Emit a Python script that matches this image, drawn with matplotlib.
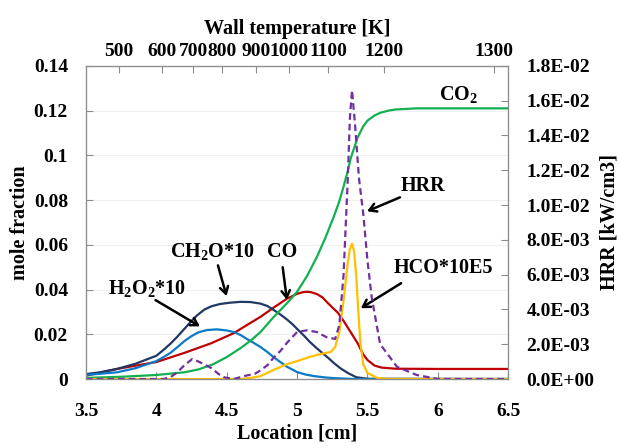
import numpy as np
import matplotlib
matplotlib.use("Agg")
import matplotlib.pyplot as plt
from matplotlib.ticker import FuncFormatter, FixedLocator

plt.rcParams['font.family'] = ['Liberation Serif', 'DejaVu Serif']
plt.rcParams['font.weight'] = 'bold'
plt.rcParams['mathtext.default'] = 'regular'

# data
# CO2 (green)
co2_x = [3.5, 3.75, 4.0, 4.2, 4.3, 4.4, 4.5, 4.6, 4.67, 4.74, 4.83, 4.93, 5.0, 5.07, 5.14, 5.2,
         5.26, 5.3, 5.33, 5.36, 5.38, 5.43, 5.47, 5.5, 5.55, 5.59, 5.65, 5.7, 5.85, 6.5]
co2_y = [0.0005, 0.001, 0.0018, 0.003, 0.0043, 0.0065, 0.0098, 0.0139, 0.0172, 0.021, 0.0275,
         0.034, 0.039, 0.046, 0.0545, 0.063, 0.0725, 0.0795, 0.086, 0.093, 0.0985, 0.108, 0.113,
         0.1155, 0.1178, 0.119, 0.12, 0.1205, 0.121, 0.121]

# CO (red)
co_x = [3.5, 3.72, 4.0, 4.2, 4.39, 4.55, 4.64, 4.74, 4.83, 4.93, 5.0, 5.04, 5.07, 5.1, 5.14, 5.18,
        5.21, 5.25, 5.29, 5.33, 5.38, 5.43, 5.47, 5.5, 5.55, 5.6, 5.7, 6.0, 6.5]
co_y = [0.0015, 0.0045, 0.0076, 0.0117, 0.016, 0.0205, 0.024, 0.0278, 0.0318, 0.036, 0.0381,
        0.0388, 0.039, 0.0388, 0.038, 0.0365, 0.0345, 0.032, 0.0296, 0.026, 0.021, 0.016, 0.011,
        0.0085, 0.006, 0.0051, 0.0046, 0.0045, 0.0045]

# CH2O*10 (navy)
ch2o_x = [3.5, 3.6, 3.72, 3.85, 4.0, 4.05, 4.1, 4.15, 4.2, 4.25, 4.29, 4.34, 4.39, 4.45, 4.52,
          4.6, 4.67, 4.74, 4.79, 4.83, 4.88, 4.93, 4.97, 5.0, 5.05, 5.09, 5.13, 5.17, 5.22, 5.26,
          5.31, 5.36, 5.42, 5.5, 6.5]
ch2o_y = [0.0022, 0.003, 0.0045, 0.0068, 0.0104, 0.013, 0.0158, 0.019, 0.0225, 0.026, 0.0285,
          0.031, 0.0325, 0.0335, 0.0341, 0.0345, 0.0344, 0.0337, 0.0326, 0.031, 0.0289, 0.0265,
          0.0243, 0.0224, 0.0193, 0.0166, 0.0143, 0.0121, 0.0095, 0.0072, 0.0047, 0.0027,
          0.0008, 0.0001, 0.0]

# H2O2*10 (light blue)
h2o2_x = [3.5, 3.72, 3.85, 4.0, 4.05, 4.1, 4.15, 4.2, 4.25, 4.3, 4.36, 4.43, 4.5, 4.55, 4.6,
          4.64, 4.69, 4.74, 4.79, 4.83, 4.88, 4.93, 5.0, 5.06, 5.12, 5.2, 5.26, 5.4, 6.5]
h2o2_y = [0.0018, 0.003, 0.0048, 0.008, 0.0098, 0.0117, 0.0143, 0.017, 0.0192, 0.0209, 0.0219,
          0.0222, 0.0217, 0.021, 0.0196, 0.018, 0.0162, 0.0143, 0.012, 0.0099, 0.0076, 0.0054,
          0.0031, 0.002, 0.0013, 0.0007, 0.0004, 0.0, 0.0]

# HCO*10E5 (yellow)
hco_x = [3.5, 4.6, 4.67, 4.74, 4.83, 4.93, 5.0, 5.09, 5.17, 5.24, 5.27, 5.3, 5.33, 5.36, 5.375,
         5.39, 5.405, 5.42, 5.435, 5.45, 5.47, 5.5, 5.57, 5.65, 6.5]
hco_y = [0.0, 0.0, 0.0005, 0.0013, 0.004, 0.0067, 0.008, 0.0099, 0.0112, 0.0121, 0.0143, 0.021,
         0.035, 0.052, 0.058, 0.0605, 0.057, 0.046, 0.03, 0.016, 0.0065, 0.0027, 0.0005, 0.0, 0.0]

# HRR (purple dashed, right axis)
hrr_x = [3.5, 4.05, 4.1, 4.15, 4.2, 4.255, 4.3, 4.35, 4.39, 4.44, 4.48, 4.55, 4.64, 4.7, 4.74,
         4.79, 4.83, 4.88, 4.93, 5.0, 5.07, 5.14, 5.21, 5.27, 5.3, 5.33, 5.36, 5.375, 5.39, 5.41,
         5.44, 5.47, 5.5, 5.53, 5.59, 5.71, 5.85, 6.0, 6.5]
hrr_y = [0.0, 0.0, 0.0001, 0.0004, 0.0008, 0.00115, 0.001, 0.0008, 0.00063, 0.0003, 0.0001, 0.0,
         0.0002, 0.0003, 0.0005, 0.0008, 0.0012, 0.0016, 0.0021, 0.0027, 0.0028, 0.0027, 0.0024,
         0.0023, 0.0031, 0.006, 0.0115, 0.015, 0.0166, 0.0148, 0.0115, 0.0095, 0.0068, 0.0047,
         0.002, 0.0007, 0.00023, 0.0, 0.0]

# top axis: wall temperature and where it sits on the location axis
wall_temp = [500, 600, 700, 800, 900, 1000, 1100, 1200, 1300]
wall_temp_loc = [3.735, 4.041, 4.262, 4.468, 4.71, 4.945, 5.222, 5.614, 6.397]

spine_col = '#8c8c8c'
tick_fs = 14
lab_fs = 14.5

fig = plt.figure(figsize=(6.19, 4.48), dpi=100)
ax = fig.add_axes([0.139, 0.154, 0.682, 0.699])

ax.plot(co_x, co_y, color='#c00000', lw=1.6)
ax.plot(ch2o_x, ch2o_y, color='#1f3864', lw=1.6)
ax.plot(h2o2_x, h2o2_y, color='#0a7ac8', lw=1.6)
ax.plot(co2_x, co2_y, color='#12b050', lw=1.6)
ax.plot(hco_x, hco_y, color='#ffc000', lw=1.6)

ax.set_xlim(3.5, 6.5)
ax.set_ylim(0, 0.14)
ax.set_xticks(np.arange(3.5, 6.51, 0.5))
ax.set_yticks(np.arange(0, 0.141, 0.02))
ax.xaxis.set_major_formatter(FuncFormatter(lambda v, p: f"{v:g}"))
ax.yaxis.set_major_formatter(FuncFormatter(lambda v, p: f"{round(v, 2):g}"))
ax.grid(axis='y', color='#efefef', lw=0.8)
ax.set_axisbelow(True)
ax.tick_params(axis='x', direction='in', length=5, color=spine_col, labelsize=tick_fs, pad=17)
ax.tick_params(axis='y', direction='in', length=5, color=spine_col, labelsize=tick_fs, pad=13)
ax.set_xlabel("Location [cm]", fontsize=lab_fs, fontweight='bold', labelpad=3)
ax.set_ylabel("mole fraction", fontsize=lab_fs, fontweight='bold', labelpad=3)

# right axis for heat release rate
ax2 = ax.twinx()
ax2.plot(hrr_x, hrr_y, color='#7030a0', lw=1.6, ls=(0, (3, 1.8)))
ax2.set_ylim(0, 0.018)
ax2.set_yticks(np.arange(0, 0.0181, 0.002))
ax2.yaxis.set_major_formatter(FuncFormatter(lambda v, p: f"{v:.1E}"))
ax2.tick_params(axis='y', direction='in', length=5, color=spine_col, labelsize=tick_fs, pad=13)
ax2.set_ylabel("HRR [kW/cm3]", fontsize=lab_fs, fontweight='bold', labelpad=4)

# top axis for wall temperature
ax3 = ax.twiny()
ax3.set_xlim(ax.get_xlim())
ax3.xaxis.set_major_locator(FixedLocator(wall_temp_loc))
ax3.set_xticklabels([str(t) for t in wall_temp])
ax3.tick_params(axis='x', direction='in', length=5, color=spine_col, labelsize=tick_fs, pad=4)
ax3.set_xlabel("Wall temperature [K]", fontsize=lab_fs, fontweight='bold', labelpad=7)

for a in (ax, ax2, ax3):
    for s in a.spines.values():
        s.set_color(spine_col)

# labels and arrows
ann_fs = 14.5
arrow = dict(arrowstyle='->, head_length=0.5, head_width=0.3', color='black', lw=1.8)
ax2.text(6.148, 0.1274 * 0.018 / 0.14, "CO$_2$", fontsize=ann_fs, ha='center', va='center')


def label(txt, tx, ty, tail, tip):
    ax.text(tx, ty, txt, fontsize=ann_fs, ha='center', va='center', zorder=6)
    ax.annotate('', xy=tip, xytext=tail, arrowprops=arrow, zorder=6)


label("HRR", 5.891, 0.0862, (5.749, 0.0817), (5.479, 0.0745))
label("HCO*10E5", 6.041, 0.0498, (5.756, 0.0435), (5.436, 0.031))
label("CH$_2$O*10", 4.397, 0.057, (4.432, 0.052), (4.504, 0.0359))
label("CO", 4.895, 0.057, (4.895, 0.0512), (4.93, 0.0341))
label("H$_2$O$_2$*10", 3.934, 0.0404, (3.977, 0.0359), (4.326, 0.0229))

fig.savefig("out.png", dpi=100)
